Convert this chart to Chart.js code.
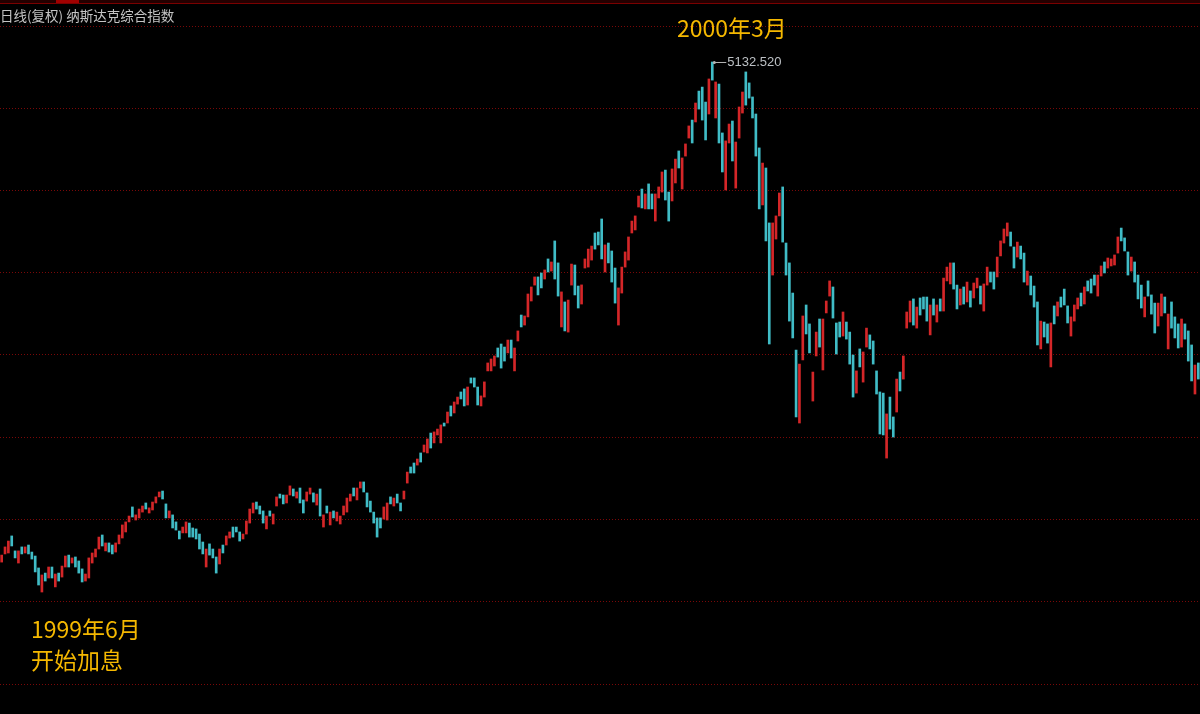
<!DOCTYPE html>
<html>
<head>
<meta charset="utf-8">
<script src="https://cdn.jsdelivr.net/npm/chart.js@4/dist/chart.umd.min.js"></script>
<style>
  html, body { margin: 0; padding: 0; background: #000; }
  canvas { display: block; }
</style>
</head>
<body>
<canvas id="chart" width="1200" height="714"></canvas>
<script>
// daily NASDAQ composite (open / close of each candle)
const opens = [
  2493, 2536, 2541, 2631, 2552, 2488, 2573, 2541, 2583, 2546,
  2525, 2462, 2335, 2435, 2409, 2467, 2362, 2435, 2414, 2467,
  2530, 2488, 2520, 2499, 2457, 2393, 2409, 2488, 2520, 2562,
  2636, 2552, 2594, 2583, 2546, 2589, 2620, 2652, 2705, 2784,
  2715, 2726, 2757, 2805, 2752, 2768, 2805, 2837, 2868, 2800,
  2726, 2742, 2705, 2657, 2647, 2647, 2699, 2673, 2668, 2641,
  2599, 2467, 2589, 2562, 2520, 2483, 2583, 2583, 2620, 2678,
  2678, 2652, 2615, 2641, 2699, 2752, 2810, 2789, 2763, 2668,
  2763, 2694, 2789, 2852, 2847, 2805, 2847, 2879, 2831, 2884,
  2821, 2815, 2852, 2858, 2794, 2879, 2678, 2789, 2689, 2763,
  2710, 2694, 2742, 2757, 2815, 2884, 2821, 2884, 2916, 2858,
  2815, 2757, 2726, 2726, 2720, 2715, 2837, 2789, 2852, 2805,
  2826, 2910, 2995, 3016, 3005, 3069, 3074, 3069, 3174, 3122,
  3164, 3122, 3227, 3227, 3317, 3280, 3327, 3391, 3407, 3322,
  3465, 3465, 3417, 3317, 3364, 3502, 3502, 3528, 3623, 3644,
  3628, 3597, 3665, 3502, 3660, 3797, 3744, 3787, 3871, 3955,
  3998, 4019, 3987, 4093, 4029, 4188, 4072, 3734, 3866, 3707,
  3955, 4061, 3950, 3855, 4045, 4050, 4087, 4230, 4235, 4304,
  4024, 4177, 4135, 4045, 3744, 3913, 4050, 4087, 4230, 4246,
  4367, 4462, 4357, 4489, 4436, 4293, 4415, 4446, 4562, 4446,
  4399, 4494, 4663, 4462, 4636, 4731, 4826, 4816, 4979, 5000,
  4921, 4858, 5132.52, 4837, 5016, 4758, 4457, 4705, 4821, 4467,
  4731, 4863, 5080, 5022, 4948, 4858, 4679, 4378, 4573, 4283,
  4008, 4198, 4320, 4473, 4177, 4072, 3913, 3612, 3227, 3560,
  3850, 3750, 3343, 3581, 3776, 3507, 3808, 3897, 3945, 3755,
  3760, 3686, 3760, 3707, 3586, 3385, 3618, 3443, 3628, 3692,
  3660, 3502, 3391, 3385, 3042, 3364, 3259, 3285, 3496, 3459,
  3728, 3760, 3882, 3728, 3887, 3892, 3892, 3692, 3882, 3760,
  3882, 3818, 3977, 3961, 4072, 3955, 3850, 3945, 3866, 3924,
  3887, 3940, 3950, 3818, 3955, 4024, 4024, 3998, 4109, 4177,
  4214, 4235, 4156, 4103, 4161, 4124, 3955, 4003, 3950, 3866,
  3618, 3760, 3750, 3523, 3845, 3792, 3892, 3934, 3845, 3686,
  3765, 3829, 3913, 3855, 3977, 3987, 4008, 3897, 4003, 4077,
  4045, 4056, 4061, 4124, 4256, 4204, 4130, 4029, 4077, 4008,
  3955, 3787, 3977, 3903, 3860, 3739, 3792, 3892, 3618, 3866,
  3787, 3750, 3628, 3750, 3713, 3639, 3380, 3544
]
const closes = [
  2530, 2573, 2604, 2578, 2515, 2552, 2536, 2573, 2536, 2509,
  2441, 2372, 2425, 2393, 2467, 2409, 2430, 2393, 2472, 2525,
  2467, 2515, 2467, 2435, 2388, 2430, 2515, 2541, 2562, 2625,
  2578, 2594, 2546, 2536, 2594, 2636, 2689, 2705, 2736, 2731,
  2742, 2773, 2789, 2773, 2779, 2810, 2837, 2863, 2826, 2726,
  2763, 2673, 2662, 2615, 2678, 2705, 2625, 2625, 2615, 2562,
  2536, 2562, 2530, 2515, 2435, 2562, 2541, 2631, 2652, 2625,
  2652, 2604, 2641, 2710, 2773, 2805, 2773, 2747, 2699, 2736,
  2736, 2747, 2837, 2831, 2800, 2847, 2895, 2842, 2863, 2805,
  2752, 2863, 2884, 2810, 2852, 2736, 2742, 2752, 2757, 2726,
  2757, 2736, 2789, 2831, 2852, 2842, 2884, 2916, 2863, 2784,
  2757, 2699, 2625, 2673, 2784, 2805, 2800, 2831, 2805, 2763,
  2868, 2968, 2963, 2963, 3037, 3021, 3111, 3143, 3095, 3180,
  3195, 3217, 3211, 3285, 3264, 3338, 3364, 3354, 3317, 3417,
  3438, 3417, 3322, 3370, 3444, 3544, 3565, 3581, 3575, 3517,
  3554, 3665, 3570, 3623, 3713, 3734, 3792, 3908, 3945, 3998,
  3903, 3940, 4035, 4024, 4077, 3987, 3897, 3919, 3713, 3876,
  4066, 3903, 3834, 3956, 4093, 4145, 4161, 4145, 4167, 4093,
  4167, 4072, 3971, 3860, 3940, 4050, 4130, 4209, 4293, 4320,
  4425, 4362, 4436, 4357, 4357, 4436, 4473, 4552, 4404, 4293,
  4568, 4620, 4573, 4626, 4700, 4795, 4705, 4916, 4884, 4826,
  4721, 5043, 5037, 5027, 4705, 4552, 4716, 4805, 4610, 4710,
  4895, 4974, 4905, 4942, 4837, 4636, 4357, 4599, 4188, 3644,
  4283, 4320, 4441, 4182, 4008, 3765, 3676, 3259, 3538, 3792,
  3697, 3597, 3496, 3707, 3628, 3776, 3871, 3977, 3781, 3591,
  3681, 3813, 3670, 3538, 3364, 3502, 3523, 3602, 3728, 3618,
  3538, 3380, 3169, 3164, 3275, 3195, 3153, 3459, 3396, 3581,
  3813, 3871, 3744, 3839, 3797, 3829, 3765, 3850, 3797, 3850,
  3818, 3992, 4050, 4072, 3934, 3829, 3934, 3855, 3971, 3839,
  3966, 3992, 3855, 3961, 4050, 3971, 3934, 4103, 4188, 4251,
  4283, 4161, 4045, 4182, 4093, 3971, 4029, 3903, 3839, 3639,
  3765, 3681, 3649, 3755, 3750, 3866, 3839, 3850, 3755, 3787,
  3850, 3887, 3845, 3945, 3924, 3913, 3955, 4008, 4056, 4019,
  4098, 4093, 4114, 4209, 4188, 4135, 4008, 4103, 3971, 3882,
  3834, 3892, 3897, 3802, 3702, 3860, 3908, 3808, 3802, 3728,
  3676, 3623, 3776, 3670, 3554, 3449, 3533, 3459
]
// trading day number, the picture has no date axis
const days = opens.map((_, i) => i + 1)

// horizontal dotted guide levels of the price pane
const gridLevels = [5322.5, 4889.7, 4456.9, 4024.1, 3591.3, 3153.2, 2720.4, 2287.6, 1849.5]

const UP = "#d42628"
const DOWN = "#40bcc6"

const title = "日线(复权) 纳斯达克综合指数"
const notePeak = "2000年3月"
const noteStart = ["1999年6月", "开始加息"]

const peakValue = Math.max(...opens, ...closes)
const peakIndex = opens.concat(closes).indexOf(peakValue) % opens.length

const decor = {
	id: "decor",
	beforeDraw(chart) {
		const c = chart.ctx
		c.save()
		c.fillStyle = "#000"
		c.fillRect(0, 0, chart.width, chart.height)
		c.restore()
	},
	beforeDatasetsDraw(chart) {
		const c = chart.ctx
		const y = chart.scales.y
		c.save()
		c.strokeStyle = "#7a0808"
		c.lineWidth = 1
		c.setLineDash([1, 2])
		gridLevels.forEach((v) => {
			const py = Math.round(y.getPixelForValue(v)) + 0.5
			c.beginPath()
			c.moveTo(0, py)
			c.lineTo(chart.width, py)
			c.stroke()
		})
		c.restore()
	},
	afterDraw(chart) {
		const c = chart.ctx
		const x = chart.scales.x
		const y = chart.scales.y
		c.save()

		// top strip
		c.fillStyle = "#240000"
		c.fillRect(0, 0, chart.width, 3)
		c.fillStyle = "#7a0000"
		c.fillRect(0, 3, chart.width, 1)
		c.fillStyle = "#a00000"
		c.fillRect(56, 0, 23, 3)

		// pane title
		c.fillStyle = "#c4c4c4"
		c.font = "13.5px 'Noto Sans CJK SC'"
		c.textBaseline = "middle"
		c.fillText(title, 0, 16)

		// peak marker
		const px = x.getPixelForValue(peakIndex)
		const py = y.getPixelForValue(peakValue)
		c.strokeStyle = "#b4b4b4"
		c.fillStyle = "#b4b4b4"
		c.lineWidth = 1
		c.beginPath()
		c.moveTo(px + 1, py + 0.5)
		c.lineTo(px + 14, py + 0.5)
		c.stroke()
		c.beginPath()
		c.arc(px + 2, py + 0.5, 1.5, 0, Math.PI * 2)
		c.fill()
		c.font = "13px 'Liberation Sans'"
		c.fillStyle = "#bcc0c4"
		c.fillText(peakValue.toFixed(3), px + 15, py)

		// notes
		c.fillStyle = "#f5b800"
		c.font = "23px 'Noto Sans CJK SC'"
		c.fillText(notePeak, 677, 28)
		c.fillText(noteStart[0], 31, 629)
		c.fillText(noteStart[1], 31, 660)
		c.restore()
	},
}

new Chart(document.getElementById("chart"), {
	type: "bar",
	data: {
		labels: days,
		datasets: [
			{
				data: opens.map((o, i) => [o, closes[i]]),
				backgroundColor: opens.map((o, i) => (closes[i] > o ? UP : DOWN)),
				barThickness: 2,
				minBarLength: 1,
				borderWidth: 0,
			},
		],
	},
	options: {
		responsive: false,
		animation: false,
		layout: { padding: 0 },
		scales: {
			x: { display: false, offset: true },
			y: { display: false, min: 1691.2, max: 5459.7 },
		},
		plugins: {
			legend: { display: false },
			tooltip: { enabled: false },
		},
	},
	plugins: [decor],
})
</script>
</body>
</html>
